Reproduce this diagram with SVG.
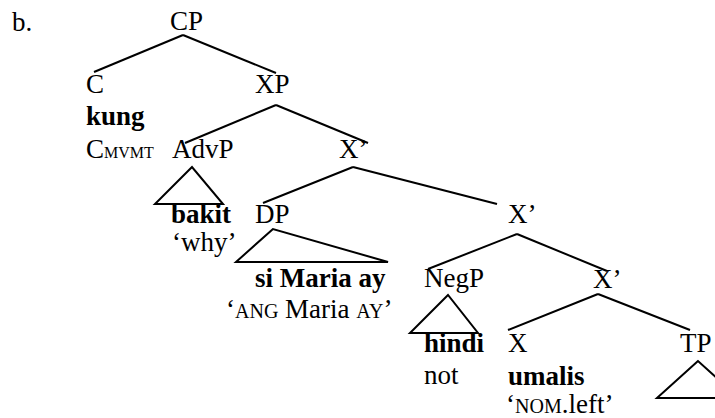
<svg xmlns="http://www.w3.org/2000/svg" width="715" height="418" viewBox="0 0 715 418">
<style>
text{font-family:'Liberation Serif','Times New Roman','DejaVu Serif',serif;font-size:27px;fill:#000}
.b{font-weight:bold}
.sc{font-size:20px}
.sub{font-size:16px}
.ln line,.ln polygon{stroke:#000;stroke-width:2;fill:none;stroke-linejoin:miter}
</style>
<rect width="715" height="418" fill="#fff"/>
<g id="connectors" class="ln">
<line x1="183" y1="35" x2="94" y2="72"/>
<line x1="183" y1="35" x2="276" y2="73"/>
<line x1="276" y1="105" x2="185" y2="143"/>
<line x1="276" y1="105" x2="368" y2="143"/>
<line x1="353" y1="167" x2="263" y2="203"/>
<line x1="353" y1="167" x2="497" y2="204"/>
<line x1="517" y1="234" x2="428" y2="269"/>
<line x1="517" y1="234" x2="607" y2="271"/>
<line x1="598" y1="294" x2="508" y2="330"/>
<line x1="598" y1="294" x2="690" y2="330"/>
<polygon points="192,167 155,204 223,204"/>
<polygon points="273,229 236,262 388,262"/>
<polygon points="448,295 410,333 478,333"/>
<polygon points="698,361 657,398 739,398"/>
</g>
<g id="label-b"><text x="12" y="31">b.</text></g>
<g id="CP"><text x="170" y="30">CP</text></g>
<g id="C"><text x="86" y="93">C</text><text class="b" x="86" y="125">kung</text><text x="86" y="158">C<tspan class="sub">MVMT</tspan></text></g>
<g id="XP"><text x="255" y="93">XP</text></g>
<g id="AdvP"><text x="172" y="158">AdvP</text><text class="b" x="171" y="223">bakit</text><text x="172" y="251">‘why’</text></g>
<g id="Xbar1"><text x="339" y="158">X’</text></g>
<g id="DP"><text x="255" y="223">DP</text><text class="b" x="255" y="287">si Maria ay</text><text x="226" y="318">‘<tspan class="sc">ANG</tspan> Maria <tspan class="sc">AY</tspan>’</text></g>
<g id="Xbar2"><text x="508" y="223">X’</text></g>
<g id="NegP"><text x="424" y="287">NegP</text><text class="b" x="424" y="352">hindi</text><text x="424" y="384">not</text></g>
<g id="Xbar3"><text x="593" y="288">X’</text></g>
<g id="X"><text x="508" y="352">X</text><text class="b" x="508" y="385">umalis</text><text x="506" y="413">‘<tspan class="sc">NOM</tspan>.left’</text></g>
<g id="TP"><text x="680" y="352">TP</text></g>
</svg>
